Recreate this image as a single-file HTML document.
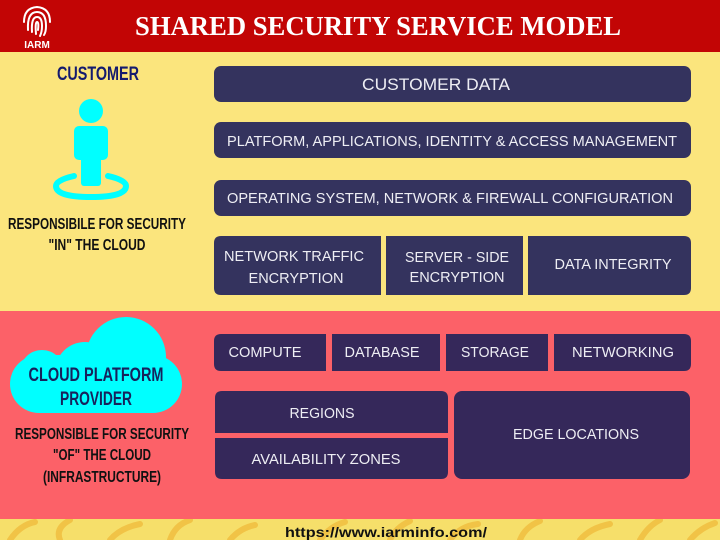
<!DOCTYPE html>
<html><head><meta charset="utf-8"><style>
html,body{margin:0;padding:0;width:720px;height:540px;overflow:hidden;background:#fbe57d}
</style></head><body>
<svg width="720" height="540" viewBox="0 0 720 540" xmlns="http://www.w3.org/2000/svg">
<rect x="0" y="0" width="720" height="540" fill="#fbe57d"/>
<rect x="0" y="518" width="720" height="22" fill="#f6df6a"/>
<g fill="none" stroke="#f0bd3e" stroke-width="6" stroke-linecap="round" opacity="0.8">
<path d="M10 540 Q20 525 35 522"/><path d="M60 540 Q55 528 70 520"/><path d="M110 540 Q120 528 140 524"/>
<path d="M170 540 Q175 525 190 520"/><path d="M230 540 Q240 528 255 525"/><path d="M320 540 Q330 526 345 522"/>
<path d="M390 540 Q395 528 410 521"/><path d="M450 540 Q460 526 478 524"/><path d="M520 540 Q525 527 540 521"/>
<path d="M580 540 Q590 528 610 524"/><path d="M640 540 Q648 526 660 520"/><path d="M690 540 Q700 528 715 523"/>
</g>
<rect x="0" y="0" width="720" height="52" fill="#c20505"/>
<text x="378" y="35" text-anchor="middle" font-family="Liberation Serif, serif" font-weight="bold" font-size="27" fill="#fff" textLength="486" lengthAdjust="spacingAndGlyphs">SHARED SECURITY SERVICE MODEL</text>
<g fill="none" stroke="#fff" stroke-width="2" stroke-linecap="round">
<path d="M24 22 Q24 8 37 7 Q50 8 50 22"/>
<path d="M28 30 Q27 12 37 12 Q46 12 46 26 Q46 32 44 35"/>
<path d="M32 32 Q31 17 37 17 Q42 17 42 26 Q42 32 40 36"/>
<path d="M36 34 Q35 22 37 22 Q39 22 38 30"/>
</g>
<text x="37" y="48" text-anchor="middle" font-family="Liberation Sans, sans-serif" font-weight="bold" font-size="10" fill="#fff">IARM</text>
<rect x="0" y="311" width="720" height="208" fill="#fc6168"/>
<text x="98" y="80" text-anchor="middle" font-family="Liberation Sans, sans-serif" font-weight="bold" font-size="19" fill="#141a6e" textLength="82" lengthAdjust="spacingAndGlyphs">CUSTOMER</text>
<circle cx="91" cy="111" r="12" fill="#00ffff"/>
<rect x="74" y="126" width="34" height="34" rx="5" fill="#00ffff"/>
<rect x="81" y="150" width="20" height="36" rx="3" fill="#00ffff"/>
<path d="M74 176 Q56 180 56 186 Q56 197 91 197 Q126 197 126 186 Q126 180 108 176" fill="none" stroke="#00ffff" stroke-width="6" stroke-linecap="round"/>
<text x="97" y="229" text-anchor="middle" font-family="Liberation Sans, sans-serif" font-weight="bold" font-size="16" fill="#111" textLength="178" lengthAdjust="spacingAndGlyphs">RESPONSIBILE FOR SECURITY</text>
<text x="97" y="250" text-anchor="middle" font-family="Liberation Sans, sans-serif" font-weight="bold" font-size="16" fill="#111" textLength="97" lengthAdjust="spacingAndGlyphs">"IN" THE CLOUD</text>
<g fill="#00ffff">
<rect x="10" y="355" width="172" height="58" rx="29"/>
<circle cx="42" cy="372" r="22"/>
<circle cx="126" cy="357" r="40"/>
<circle cx="85" cy="372" r="30"/>
</g>
<text x="96" y="381" text-anchor="middle" font-family="Liberation Sans, sans-serif" font-weight="bold" font-size="19" fill="#17225c" textLength="135" lengthAdjust="spacingAndGlyphs">CLOUD PLATFORM</text>
<text x="96" y="405" text-anchor="middle" font-family="Liberation Sans, sans-serif" font-weight="bold" font-size="19" fill="#17225c" textLength="72" lengthAdjust="spacingAndGlyphs">PROVIDER</text>
<g font-family="Liberation Sans, sans-serif" font-weight="bold" font-size="16" fill="#111" text-anchor="middle">
<text x="102" y="439" textLength="174" lengthAdjust="spacingAndGlyphs">RESPONSIBLE FOR SECURITY</text>
<text x="102" y="460" textLength="98" lengthAdjust="spacingAndGlyphs">"OF" THE CLOUD</text>
<text x="102" y="482" textLength="118" lengthAdjust="spacingAndGlyphs">(INFRASTRUCTURE)</text>
</g>
<g fill="#34335e">
<rect x="214" y="66" width="477" height="36" rx="7"/>
<rect x="214" y="122" width="477" height="36" rx="7"/>
<rect x="214" y="180" width="477" height="36" rx="7"/>
<path d="M221 236 H381 V295 H221 Q214 295 214 288 V243 Q214 236 221 236Z"/>
<rect x="386" y="236" width="137" height="59"/>
<path d="M528 236 H684 Q691 236 691 243 V288 Q691 295 684 295 H528Z"/>
</g>
<g fill="#35285a">
<path d="M221 334 H326 V371 H221 Q214 371 214 364 V341 Q214 334 221 334Z"/>
<rect x="332" y="334" width="108" height="37"/>
<rect x="446" y="334" width="102" height="37"/>
<path d="M554 334 H684 Q691 334 691 341 V364 Q691 371 684 371 H554Z"/>
<path d="M222 391 H441 Q448 391 448 398 V433 H215 V398 Q215 391 222 391Z"/>
<path d="M215 438 H448 V472 Q448 479 441 479 H222 Q215 479 215 472Z"/>
<rect x="454" y="391" width="236" height="88" rx="8"/>
</g>
<g font-family="Liberation Sans, sans-serif" font-size="15" fill="#eeeef4" text-anchor="middle">
<text x="436" y="90" textLength="148" lengthAdjust="spacingAndGlyphs" font-size="17">CUSTOMER DATA</text>
<text x="452" y="146" textLength="450" lengthAdjust="spacingAndGlyphs">PLATFORM, APPLICATIONS, IDENTITY &amp; ACCESS MANAGEMENT</text>
<text x="450" y="203" textLength="446" lengthAdjust="spacingAndGlyphs">OPERATING SYSTEM, NETWORK &amp; FIREWALL CONFIGURATION</text>
<text x="294" y="261" textLength="140" lengthAdjust="spacingAndGlyphs">NETWORK TRAFFIC</text>
<text x="296" y="283" textLength="95" lengthAdjust="spacingAndGlyphs">ENCRYPTION</text>
<text x="457" y="262" textLength="104" lengthAdjust="spacingAndGlyphs">SERVER - SIDE</text>
<text x="457" y="282" textLength="95" lengthAdjust="spacingAndGlyphs">ENCRYPTION</text>
<text x="613" y="269" textLength="117" lengthAdjust="spacingAndGlyphs">DATA INTEGRITY</text>
<text x="265" y="357" textLength="73" lengthAdjust="spacingAndGlyphs">COMPUTE</text>
<text x="382" y="357" textLength="75" lengthAdjust="spacingAndGlyphs">DATABASE</text>
<text x="495" y="357" textLength="68" lengthAdjust="spacingAndGlyphs">STORAGE</text>
<text x="623" y="357" textLength="102" lengthAdjust="spacingAndGlyphs">NETWORKING</text>
<text x="322" y="418" textLength="65" lengthAdjust="spacingAndGlyphs">REGIONS</text>
<text x="326" y="464" textLength="149" lengthAdjust="spacingAndGlyphs">AVAILABILITY ZONES</text>
<text x="576" y="439" textLength="126" lengthAdjust="spacingAndGlyphs">EDGE LOCATIONS</text>
</g>
<text x="386" y="537" text-anchor="middle" font-family="Liberation Sans, sans-serif" font-weight="bold" font-size="14" fill="#111" textLength="202" lengthAdjust="spacingAndGlyphs">https://www.iarminfo.com/</text>
</svg>
</body></html>
